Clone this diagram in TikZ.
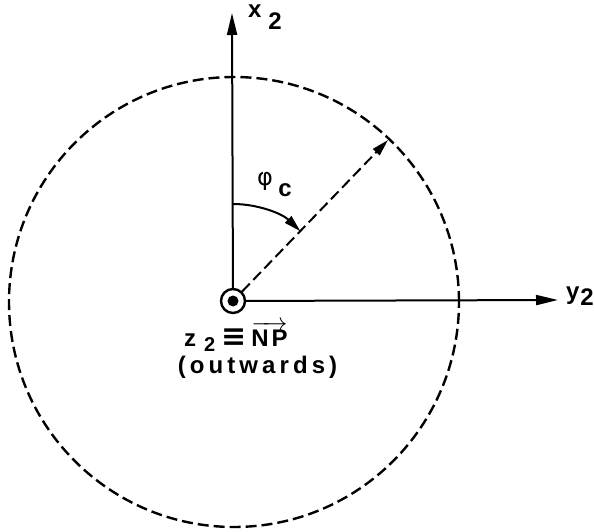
\documentclass[tikz,border=0pt]{standalone}
\usepackage{fontspec}
\setmainfont{Liberation Sans}
\newfontfamily\symfont{DejaVu Sans}
\newfontfamily\spaced[LetterSpace=17]{Liberation Sans}
\usetikzlibrary{arrows.meta}
\begin{document}
\begin{tikzpicture}[x=1pt,y=1pt,line width=2pt,
  bigtip/.style={-{Triangle[length=22pt,width=10pt]}},
  smalltip/.style={-{Triangle[length=17pt,width=9pt]}},
  dashline/.style={dash pattern=on 11pt off 5pt},
  lbl/.style={inner sep=0pt,font=\fontsize{24}{28}\selectfont\bfseries}]
\useasboundingbox (0,0) rectangle (594,531);
% dashed circle
\draw[dashline,line width=2.4pt] (234,229) circle[radius=225];
% origin symbol
\node[circle,draw,fill=white,minimum size=24pt,inner sep=0pt,line width=2.4pt] (O) at (233,230) {};
\coordinate (X) at (232,518);
\coordinate (Y) at (558,231);
\coordinate (T) at (388,391);
\draw[bigtip] (O) -- (X);
\draw[bigtip] (O) -- (Y);
\draw[dashline,smalltip] (O) -- (T);
\fill (O.center) circle[radius=5.5];
% angle arc
\coordinate (A0) at (233,327);
\draw[smalltip] (A0) arc[start angle=90,end angle=46,radius=97];
% labels
\node[lbl,anchor=base west] (lx) at (247,513) {x\hspace{7pt}\raisebox{-12pt}{2}};
\node[lbl,anchor=base west] (ly) at (565,232) {y\hspace{1pt}\raisebox{-6pt}{2}};
\node[lbl,font=\symfont\fontsize{24}{28}\selectfont] (lphi) at (265,350) {φ};
\node[lbl] (lc) at (285,341) {c};
\node[lbl,anchor=base west] (lz) at (183,185) {z\hspace{8pt}\raisebox{-5pt}{\fontsize{20}{24}\selectfont 2}\hspace{6pt}{\symfont\fontsize{30}{32}\selectfont ≡}\hspace{5pt}$\overrightarrow{\hbox{N\hspace{3pt}P}}$};
\node[lbl,anchor=base] (lo) at (257.5,158) {\spaced\bfseries (outwards)};
\end{tikzpicture}
\end{document}
